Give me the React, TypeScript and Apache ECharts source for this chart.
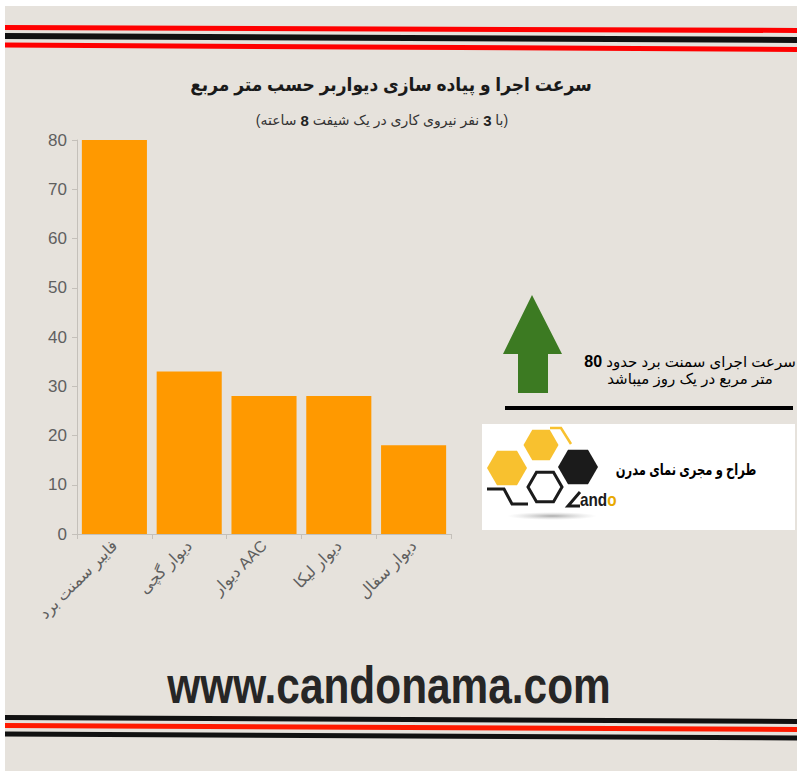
import React, { useEffect, useRef } from "react";
import * as echarts from "echarts";

const categories = ["فایبر سمنت برد", "دیوار گچی", "دیوار AAC", "دیوار لیکا", "دیوار سفال"];
const values = [80, 33, 28, 28, 18];
const yMin = 0;
const yMax = 80;
const yInterval = 10;

const titleText = "سرعت اجرا و پیاده سازی دیواربر حسب متر مربع";
const subtitleParts = ["(ساعته ", "8", " نفر نیروی کاری در یک شیفت ", "3", " با)"];
const noteLine1 = ["80", " سرعت اجرای سمنت برد حدود"];
const noteLine2 = "متر مربع در یک روز میباشد";
const logoText = "طراح و مجری نمای مدرن";
const siteText = "www.candonama.com";

const FONT = "Arial, 'Liberation Sans', 'DejaVu Sans', sans-serif";
const YELLOW = "#f8c12f";

function hex(cx: number, cy: number, r: number): number[][] {
  const pts: number[][] = [];
  for (let i = 0; i < 6; i++) {
    const a = (Math.PI / 3) * i;
    pts.push([cx + r * Math.cos(a), cy + r * Math.sin(a)]);
  }
  return pts;
}

export default function App() {
  const ref = useRef<HTMLDivElement>(null);
  useEffect(() => {
    document.body.style.margin = "0";
    document.body.style.background = "#ffffff";
    const chart = echarts.init(ref.current!, undefined, { renderer: "svg" });
    const line = (x1: number, y1: number, x2: number, y2: number, color: string, w: number) => ({
      type: "line",
      z: -5,
      shape: { x1, y1, x2, y2 },
      style: { stroke: color, lineWidth: w },
      silent: true,
    });
    chart.setOption({
      animation: false,
      backgroundColor: "transparent",
      grid: { left: 77, right: 351, top: 140, bottom: 244, containLabel: false },
      xAxis: {
        type: "category",
        data: categories,
        axisLine: { show: true, lineStyle: { color: "#c4c0ba", width: 1 } },
        axisTick: { show: true, length: 5, lineStyle: { color: "#c4c0ba" } },
        axisLabel: {
          interval: 0,
          rotate: 45,
          margin: 9,
          fontSize: 16,
          color: "#5f5f5f",
          fontFamily: FONT,
        },
      },
      yAxis: {
        type: "value",
        min: yMin,
        max: yMax,
        interval: yInterval,
        axisLine: { show: true, lineStyle: { color: "#c4c0ba", width: 1 } },
        axisTick: { show: true, length: 5, lineStyle: { color: "#c4c0ba" } },
        splitLine: { show: false },
        axisLabel: { fontSize: 17, color: "#5f5f5f", margin: 10, fontFamily: FONT },
      },
      series: [
        {
          type: "bar",
          data: values,
          barCategoryGap: "13%",
          itemStyle: { color: "#ff9900" },
        },
      ],
      graphic: [
        {
          type: "rect",
          z: -10,
          silent: true,
          shape: { x: 5, y: 6, width: 792, height: 765 },
          style: { fill: "#e6e2dc" },
        },
        line(5, 27.5, 797, 30.5, "#ff0000", 5),
        line(5, 36, 797, 40, "#111111", 6),
        line(5, 45, 797, 49.5, "#ff0000", 5),
        line(5, 717.5, 797, 721.5, "#111111", 5),
        line(5, 725.5, 797, 729.5, "#ff1a00", 5),
        line(5, 734, 797, 738, "#111111", 5),
        {
          type: "text",
          x: 391,
          y: 85,
          scaleX: 0.9,
          style: {
            text: titleText,
            fill: "#1a1a1a",
            fontSize: 19,
            fontWeight: "bold",
            fontFamily: FONT,
            textAlign: "center",
            textVerticalAlign: "middle",
          },
        },
        {
          type: "text",
          x: 382,
          y: 120,
          style: {
            text: subtitleParts
              .map((p, i) => (i % 2 === 1 ? `{b|${p}}` : `{n|${p}}`))
              .join(""),
            textAlign: "center",
            textVerticalAlign: "middle",
            rich: {
              n: { fontSize: 14, fill: "#333333", fontFamily: FONT },
              b: { fontSize: 15, fontWeight: "bold", fill: "#222222", fontFamily: FONT },
            },
          },
        },
        {
          type: "polygon",
          shape: {
            points: [
              [532, 295],
              [562, 354],
              [548, 354],
              [548, 393],
              [518, 393],
              [518, 354],
              [503, 354],
            ],
          },
          style: { fill: "#3c7a22" },
        },
        {
          type: "rect",
          shape: { x: 505, y: 406, width: 288, height: 4 },
          style: { fill: "#000000" },
        },
        {
          type: "text",
          x: 690,
          y: 370,
          style: {
            text: `{b|${noteLine1[0]}}{n|${noteLine1[1]}}\n{n|${noteLine2}}`,
            textAlign: "center",
            textVerticalAlign: "middle",
            rich: {
              n: { fontSize: 15, fill: "#000000", fontFamily: FONT, lineHeight: 17 },
              b: { fontSize: 16, fontWeight: "bold", fill: "#000000", fontFamily: FONT, lineHeight: 17 },
            },
          },
        },
        {
          type: "rect",
          shape: { x: 482, y: 424, width: 313, height: 106 },
          style: { fill: "#ffffff" },
        },
        {
          type: "ellipse",
          shape: { cx: 552, cy: 516, rx: 45, ry: 4 },
          style: {
            fill: new echarts.graphic.RadialGradient(0.5, 0.5, 0.5, [
              { offset: 0, color: "rgba(150,150,150,0.8)" },
              { offset: 1, color: "rgba(200,200,200,0)" },
            ]),
          },
        },
        { type: "polygon", shape: { points: hex(507, 468, 20) }, style: { fill: YELLOW } },
        { type: "polygon", shape: { points: hex(541, 445, 17.5) }, style: { fill: YELLOW } },
        {
          type: "polyline",
          shape: { points: [[550, 428], [561, 428], [571, 444]] },
          style: { stroke: YELLOW, lineWidth: 2.5, fill: "none" },
        },
        { type: "polygon", shape: { points: hex(578, 467, 20) }, style: { fill: "#1b1b1b" } },
        {
          type: "polygon",
          shape: { points: hex(545, 487, 17) },
          style: { fill: "none", stroke: "#1b1b1b", lineWidth: 3 },
        },
        {
          type: "polyline",
          shape: { points: [[487, 489], [504, 489], [512, 504], [528, 504]] },
          style: { stroke: "#1b1b1b", lineWidth: 3, fill: "none" },
        },
        {
          type: "polyline",
          shape: { points: [[580, 492], [568, 506], [580, 506]] },
          style: { stroke: "#1b1b1b", lineWidth: 3, fill: "none" },
        },
        {
          type: "text",
          x: 580,
          y: 500,
          scaleX: 0.85,
          style: {
            text: "{k|and}{y|o}",
            textAlign: "left",
            textVerticalAlign: "middle",
            rich: {
              k: { fontSize: 18, fontWeight: "bold", fill: "#1b1b1b", fontFamily: FONT },
              y: { fontSize: 18, fontWeight: "bold", fill: "#e8a900", fontFamily: FONT },
            },
          },
        },
        {
          type: "text",
          x: 686,
          y: 469,
          scaleX: 0.72,
          style: {
            text: logoText,
            fill: "#000000",
            fontSize: 16,
            fontWeight: "bold",
            fontFamily: FONT,
            textAlign: "center",
            textVerticalAlign: "middle",
          },
        },
        {
          type: "text",
          x: 389,
          y: 685,
          scaleX: 0.815,
          style: {
            text: siteText,
            fill: "#262626",
            fontSize: 52,
            fontWeight: "bold",
            fontFamily: FONT,
            textAlign: "center",
            textVerticalAlign: "middle",
          },
        },
      ],
    });
    return () => chart.dispose();
  }, []);
  return <div ref={ref} style={{ width: 802, height: 778, background: "#ffffff" }} />;
}
